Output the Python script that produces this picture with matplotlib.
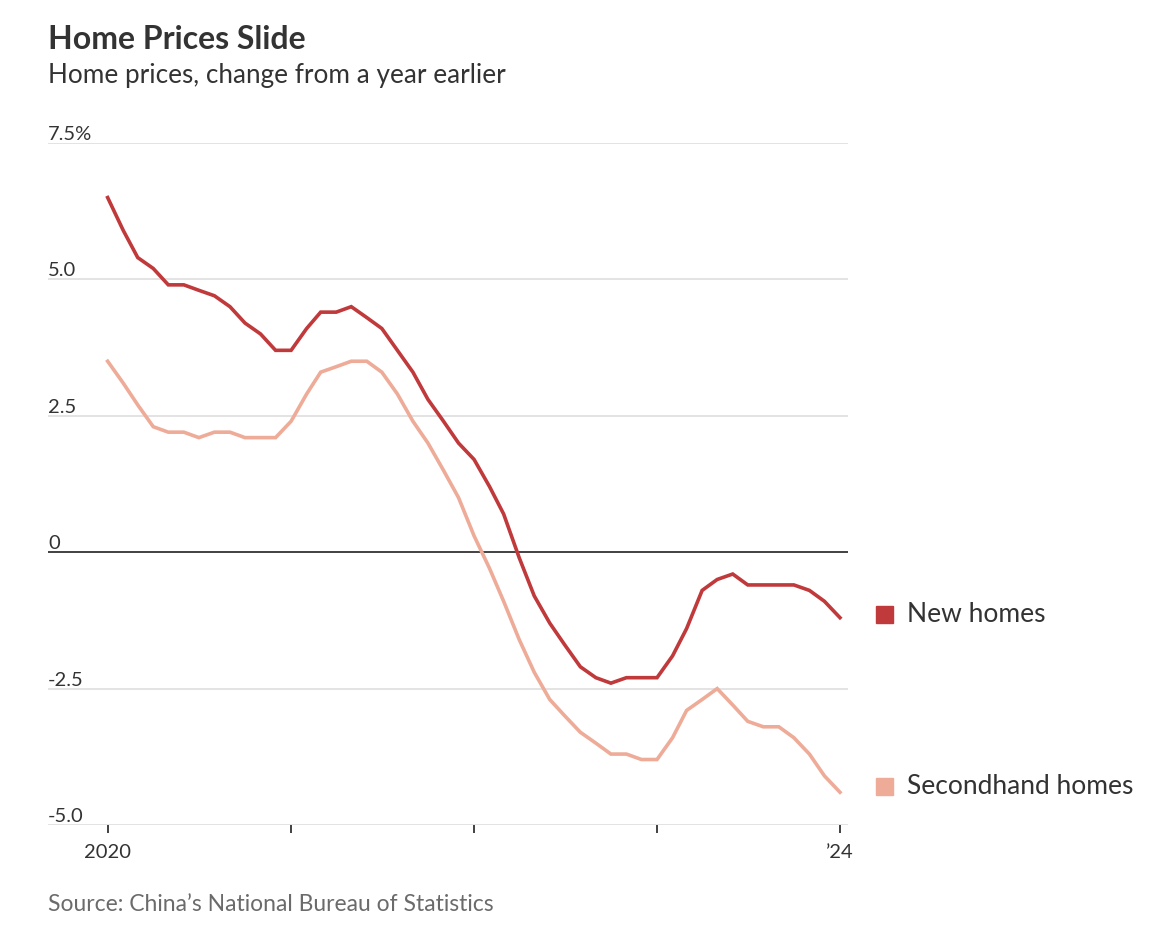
import pandas as pd
import matplotlib.pyplot as plt
import matplotlib.transforms as mtransforms

plt.rcParams['font.family'] = ['Lato', 'DejaVu Sans']

# Monthly data, Jan 2020 - Jan 2024
months = pd.date_range('2020-01-01', periods=49, freq='MS')

new_homes = [6.5, 5.9, 5.4, 5.2, 4.9, 4.9, 4.8, 4.7, 4.5, 4.2, 4.0, 3.7,
             3.7, 4.1, 4.4, 4.4, 4.5, 4.3, 4.1, 3.7, 3.3, 2.8, 2.4, 2.0,
             1.7, 1.2, 0.7, -0.1, -0.8, -1.3, -1.7, -2.1, -2.3, -2.4, -2.3, -2.3,
             -2.3, -1.9, -1.4, -0.7, -0.5, -0.4, -0.6, -0.6, -0.6, -0.6, -0.7, -0.9,
             -1.2]
secondhand = [3.5, 3.1, 2.7, 2.3, 2.2, 2.2, 2.1, 2.2, 2.2, 2.1, 2.1, 2.1,
              2.4, 2.9, 3.3, 3.4, 3.5, 3.5, 3.3, 2.9, 2.4, 2.0, 1.5, 1.0,
              0.3, -0.3, -0.9, -1.6, -2.2, -2.7, -3.0, -3.3, -3.5, -3.7, -3.7, -3.8,
              -3.8, -3.4, -2.9, -2.7, -2.5, -2.8, -3.1, -3.2, -3.2, -3.4, -3.7, -4.1,
              -4.4]

y_ticks = [7.5, 5.0, 2.5, 0, -2.5, -5.0]
y_labels = ['7.5%', '5.0', '2.5', '0', '-2.5', '-5.0']
year_ticks = pd.date_range('2020-01-01', periods=5, freq='YS')
year_labels = ['2020', '', '', '', '\u201924']

series_names = ['New homes', 'Secondhand homes']
colors = ['#c0393b', '#eeab98']

W, H = 1174, 932
fig = plt.figure(figsize=(W / 100, H / 100), dpi=100)
ax = fig.add_axes([48 / W, (H - 825) / H, 800 / W, 682 / H])

ax.set_ylim(-5, 7.5)
ax.set_xlim(months[0] - pd.Timedelta(days=119), months[-1] + pd.Timedelta(days=16))

# gridlines
for v in y_ticks:
    if v == 0:
        ax.axhline(v, color='#333333', lw=1.3, zorder=3)
    else:
        ax.axhline(v, color='#e0e0e0', lw=1.3, zorder=1)

ax.plot(months, secondhand, color=colors[1], lw=2.6, zorder=4, solid_joinstyle='miter')
ax.plot(months, new_homes, color=colors[0], lw=2.6, zorder=5, solid_joinstyle='miter')

# y labels above gridlines, left aligned
trans = mtransforms.blended_transform_factory(ax.transAxes, ax.transData)
for v, lab in zip(y_ticks, y_labels):
    ax.text(0, v, lab, transform=trans, ha='left', va='bottom', fontsize=14.5,
            color='#333333')

for s in ax.spines.values():
    s.set_visible(False)
ax.set_yticks([])
ax.set_xticks(year_ticks)
ax.set_xticklabels(year_labels)
ax.tick_params(axis='x', length=6, width=1.3, color='#333333', labelsize=14.5,
               labelcolor='#333333', pad=8)

# legend labels at line ends
fig.patches.append(plt.Rectangle((876 / W, 1 - 623 / H), 17 / W, 17 / H,
                                 transform=fig.transFigure, color=colors[0]))
fig.patches.append(plt.Rectangle((876 / W, 1 - 795 / H), 17 / W, 17 / H,
                                 transform=fig.transFigure, color=colors[1]))
fig.text(907 / W, 1 - 614 / H, series_names[0], fontsize=19, color='#333333',
         va='center', ha='left')
fig.text(907 / W, 1 - 786 / H, series_names[1], fontsize=19, color='#333333',
         va='center', ha='left')

fig.text(48 / W, 1 - 49 / H, 'Home Prices Slide', fontsize=23, fontweight='bold',
         color='#333333', ha='left', va='baseline')
fig.text(48 / W, 1 - 83 / H, 'Home prices, change from a year earlier', fontsize=18.8,
         color='#333333', ha='left', va='baseline')
fig.text(48 / W, 1 - 911 / H, 'Source: China\u2019s National Bureau of Statistics',
         fontsize=16.5, color='#6b6b6b', ha='left', va='baseline')

fig.savefig('out.png', dpi=100, facecolor='white')
